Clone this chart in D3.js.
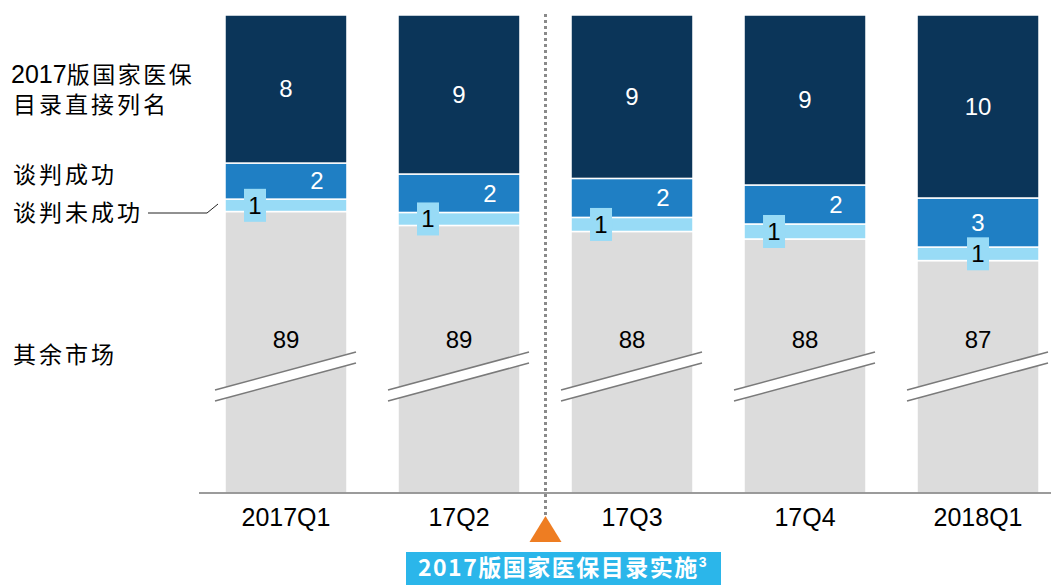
<!DOCTYPE html>
<html><head><meta charset="utf-8">
<script src="https://cdn.jsdelivr.net/npm/d3@7"></script>
<style>
html,body{margin:0;padding:0;background:#fff;}
svg{display:block;}
</style></head>
<body>
<svg id="chart" width="1051" height="585"></svg>
<script>
// ---- data ----
const categories = ["2017Q1", "17Q2", "17Q3", "17Q4", "2018Q1"];
const listedShare = [8.09, 8.69, 8.93, 9.29, 10.0];     // 2017版国家医保目录直接列名
const negoSuccessShare = [1.97, 2.10, 2.13, 2.13, 2.68]; // 谈判成功
const negoFailShare = [0.68, 0.71, 0.77, 0.82, 0.74];    // 谈判未成功
const otherLabels = [89, 89, 88, 88, 87];                // 其余市场
const seriesNames = ["2017版国家医保目录直接列名", "谈判成功", "谈判未成功", "其余市场"];
const eventLabel = "2017版国家医保目录实施";

const colors = {dark: "#0B3559", mid: "#1F7FC4", light: "#98DBF6", grey: "#DCDCDC"};
const latin = "'Liberation Sans', Arial, sans-serif";
const cjk = "'Noto Sans CJK SC', 'Liberation Sans', sans-serif";

const svg = d3.select("#chart");
const baseY = 493;

const x = d3.scaleBand().domain(categories).range([225, 1039]).paddingInner(0.295).paddingOuter(0);
const bw = x.bandwidth();
const y = d3.scaleLinear().domain([100, 86]).range([15, 15 + 14 * 18.3]);

const data = categories.map((c, i) => {
  const t0 = 100, t1 = t0 - listedShare[i], t2 = t1 - negoSuccessShare[i], t3 = t2 - negoFailShare[i];
  return {c, i, t0, t1, t2, t3};
});

const g = svg.append("g");

// grey segment (broken)
g.selectAll(".grey").data(data).join("rect")
  .attr("x", d => x(d.c)).attr("width", bw)
  .attr("y", d => y(d.t3)).attr("height", d => baseY - y(d.t3))
  .attr("fill", colors.grey).attr("stroke", "#fff").attr("stroke-width", 1.5);
// light
g.selectAll(".light").data(data).join("rect")
  .attr("x", d => x(d.c)).attr("width", bw)
  .attr("y", d => y(d.t2)).attr("height", d => y(d.t3) - y(d.t2))
  .attr("fill", colors.light).attr("stroke", "#fff").attr("stroke-width", 1.5);
// mid
g.selectAll(".mid").data(data).join("rect")
  .attr("x", d => x(d.c)).attr("width", bw)
  .attr("y", d => y(d.t1)).attr("height", d => y(d.t2) - y(d.t1))
  .attr("fill", colors.mid).attr("stroke", "#fff").attr("stroke-width", 1.5);
// dark
g.selectAll(".dark").data(data).join("rect")
  .attr("x", d => x(d.c)).attr("width", bw)
  .attr("y", d => y(d.t0)).attr("height", d => y(d.t1) - y(d.t0))
  .attr("fill", colors.dark).attr("stroke", "#fff").attr("stroke-width", 1.5);

// break marks
const brk = g.selectAll(".brk").data(data).join("g");
brk.append("polygon")
  .attr("points", d => {
    const l = x(d.c) - 10, r = x(d.c) + bw + 9;
    return `${l},390 ${r},352 ${r},363 ${l},401`;
  }).attr("fill", "#fff");
brk.append("line").attr("x1", d => x(d.c) - 10).attr("y1", 390).attr("x2", d => x(d.c) + bw + 9).attr("y2", 352)
  .attr("stroke", "#7a7a7a").attr("stroke-width", 1.5);
brk.append("line").attr("x1", d => x(d.c) - 10).attr("y1", 401).attr("x2", d => x(d.c) + bw + 9).attr("y2", 363)
  .attr("stroke", "#7a7a7a").attr("stroke-width", 1.5);

// labels
const centered = d => (y(d.t2) - y(d.t1)) > 45;
g.selectAll(".ldark").data(data).join("text")
  .attr("x", d => x(d.c) + bw / 2).attr("y", d => (y(d.t0) + y(d.t1)) / 2)
  .attr("dy", "0.35em").attr("text-anchor", "middle")
  .attr("font-family", latin).attr("font-size", 24).attr("fill", "#fff")
  .text(d => Math.round(listedShare[d.i]));
g.selectAll(".lmid").data(data).join("text")
  .attr("x", d => x(d.c) + bw / 2 + (centered(d) ? 0 : 31))
  .attr("y", d => (y(d.t1) + y(d.t2)) / 2)
  .attr("dy", "0.35em").attr("text-anchor", "middle")
  .attr("font-family", latin).attr("font-size", 24).attr("fill", "#fff")
  .text(d => Math.round(negoSuccessShare[d.i]));
const lb = g.selectAll(".llight").data(data).join("g")
  .attr("transform", d => `translate(${centered(d) ? x(d.c) + bw / 2 : x(d.c) + 30},${(y(d.t2) + y(d.t3)) / 2})`);
lb.append("rect").attr("x", -11).attr("y", -16.5).attr("width", 22).attr("height", 33).attr("fill", colors.light);
lb.append("text").attr("dy", "0.35em").attr("text-anchor", "middle")
  .attr("font-family", latin).attr("font-size", 24).attr("fill", "#000")
  .text(d => Math.round(negoFailShare[d.i]));
g.selectAll(".lgrey").data(data).join("text")
  .attr("x", d => x(d.c) + bw / 2).attr("y", 340)
  .attr("dy", "0.35em").attr("text-anchor", "middle")
  .attr("font-family", latin).attr("font-size", 24).attr("fill", "#000")
  .text(d => otherLabels[d.i]);

// axis
const axis = svg.append("g").attr("transform", `translate(0,${baseY})`)
  .call(d3.axisBottom(x).tickSize(0).tickPadding(15));
axis.select(".domain").remove();
axis.selectAll("text").attr("font-family", latin).attr("font-size", 25).attr("fill", "#000");
svg.append("line").attr("x1", 199).attr("x2", 1051).attr("y1", baseY).attr("y2", baseY)
  .attr("stroke", "#7a7a7a").attr("stroke-width", 1.5);

// event marker
const ex = (x(categories[1]) + bw + x(categories[2])) / 2;
svg.append("line").attr("x1", ex).attr("x2", ex).attr("y1", 14).attr("y2", 516)
  .attr("stroke", "#8a8a8a").attr("stroke-width", 3).attr("stroke-dasharray", "3,3");
svg.append("path").attr("d", `M${ex},516 L${ex + 16},542 L${ex - 16},542 Z`).attr("fill", "#EE7D22");
svg.append("rect").attr("x", 406).attr("y", 552).attr("width", 315).attr("height", 33).attr("fill", "#2BB6EA");
const et = svg.append("text").attr("x", 563).attr("y", 576).attr("text-anchor", "middle")
  .attr("font-family", cjk).attr("font-weight", "bold").attr("font-size", 23).attr("fill", "#fff")
  .attr("letter-spacing", 1.5);
et.append("tspan").text(eventLabel);
et.append("tspan").attr("font-size", 14).attr("dy", -9).attr("font-family", latin).text("3");

// left legend labels
const lg = svg.append("g").attr("font-family", cjk).attr("font-size", 23).attr("fill", "#000");
const t1 = lg.append("text").attr("x", 11).attr("y", 75).attr("dy", "0.35em");
t1.append("tspan").attr("font-family", latin).attr("font-size", 25).text("2017");
t1.append("tspan").attr("letter-spacing", 2.5).text("版国家医保");
lg.append("text").attr("x", 13).attr("y", 105).attr("dy", "0.35em").attr("letter-spacing", 3).text("目录直接列名");
lg.append("text").attr("x", 13).attr("y", 175).attr("dy", "0.35em").attr("letter-spacing", 3).text(seriesNames[1]);
lg.append("text").attr("x", 13).attr("y", 213).attr("dy", "0.35em").attr("letter-spacing", 3).text(seriesNames[2]);
lg.append("text").attr("x", 13).attr("y", 355).attr("dy", "0.35em").attr("letter-spacing", 3).text(seriesNames[3]);
svg.append("polyline").attr("points", "148,213 207,213 218,204")
  .attr("fill", "none").attr("stroke", "#222").attr("stroke-width", 1);
</script>
</body></html>
